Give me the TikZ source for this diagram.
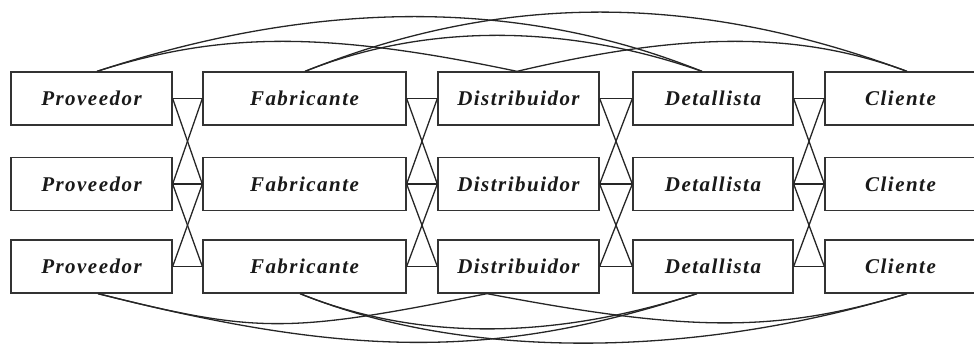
\documentclass[tikz,border=0pt]{standalone}
\usepackage{fontspec}
\newfontfamily\boxfont[LetterSpace=7]{Liberation Serif}
\usetikzlibrary{calc}
\begin{document}
\begin{tikzpicture}[x=1pt,y=-1pt,
  box/.style={draw=black!80,line width=1.3pt,inner sep=0pt,minimum height=53pt,
    font=\boxfont\bfseries\itshape\fontsize{21}{25}\selectfont,text=black!90},
  link/.style={draw=black!85,line width=1.3pt},
]
\useasboundingbox (0,0) rectangle (974,344);
% rows
\foreach \r/\y in {1/98.5,2/184,3/266.5}{
  \node[box,minimum width=161pt] (p\r) at (91.5,\y) {Proveedor};
  \node[box,minimum width=203pt] (f\r) at (304.5,\y) {Fabricante};
  \node[box,minimum width=161pt] (d\r) at (518.5,\y) {Distribuidor};
  \node[box,minimum width=160pt] (e\r) at (713,\y) {Detallista};
  \node[box,minimum width=151pt] (c\r) at (900.5,\y) {Cliente};
}
% adjacent connectors
\foreach \a/\b in {p/f,f/d,d/e,e/c}{
  \draw[link] (\a1.east) -- (\b1.west);
  \draw[link] (\a2.east) -- (\b2.west);
  \draw[link] (\a3.east) -- (\b3.west);
  \draw[link] (\a1.east) -- (\b2.west);
  \draw[link] (\a2.east) -- (\b1.west);
  \draw[link] (\a2.east) -- (\b3.west);
  \draw[link] (\a3.east) -- (\b2.west);
}
% top arcs
\draw[link] ($(p1.north)+(5.5,0)$) .. controls +(125,-40) and +(-190,-40) .. ($(d1.north)+(-1.5,0)$);
\draw[link] ($(p1.north)+(5.5,0)$) .. controls +(222,-73) and +(-182,-73) .. ($(e1.north)+(-11,0)$);
\draw[link] ($(f1.north)+(0.5,0)$) .. controls +(120,-48) and +(-137,-48) .. ($(e1.north)+(-11,0)$);
\draw[link] ($(f1.north)+(0.5,0)$) .. controls +(197,-79) and +(-213,-79) .. ($(c1.north)+(6.5,0)$);
\draw[link] ($(d1.north)+(-1.5,0)$) .. controls +(170,-40) and +(-108,-40) .. ($(c1.north)+(6.5,0)$);
% bottom arcs
\draw[link] ($(p3.south)+(6.5,0)$) .. controls +(160,40) and +(-200,40) .. ($(d3.south)+(-31.5,0)$);
\draw[link] ($(p3.south)+(6.5,0)$) .. controls +(256,65) and +(-200,65) .. ($(e3.south)+(-16,0)$);
\draw[link] ($(f3.south)+(-4.5,0)$) .. controls +(117,47) and +(-147,47) .. ($(e3.south)+(-16,0)$);
\draw[link] ($(f3.south)+(-4.5,0)$) .. controls +(163,66) and +(-217,66) .. ($(c3.south)+(6.5,0)$);
\draw[link] ($(d3.south)+(-31.5,0)$) .. controls +(205,39) and +(-130,39) .. ($(c3.south)+(6.5,0)$);
\end{tikzpicture}
\end{document}
